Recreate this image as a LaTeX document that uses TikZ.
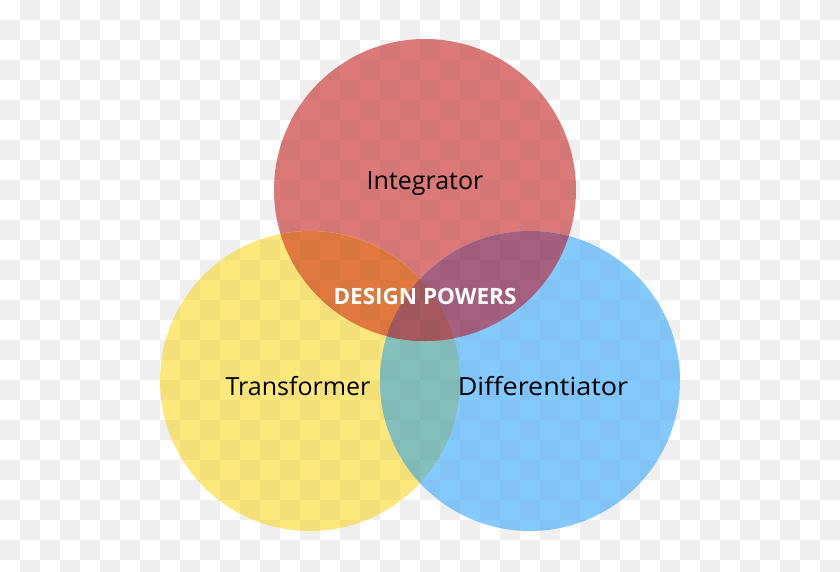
\documentclass[tikz,border=0pt]{standalone}
\usepackage{fontspec}
\setmainfont{Open Sans}
\definecolor{bgw}{HTML}{FFFFFF}
\definecolor{bgg}{HTML}{F7F7F7}
\definecolor{cred}{RGB}{220,122,122}
\definecolor{cyel}{RGB}{252,232,124}
\definecolor{cblu}{RGB}{133,202,252}
\definecolor{corg}{RGB}{224,122,64}
\definecolor{cpur}{RGB}{166,96,128}
\definecolor{ctea}{RGB}{134,192,188}
\definecolor{ctri}{RGB}{166,90,96}
\tikzset{
  lbl/.style={font=\fontsize{25}{28}\selectfont, text=black, inner sep=0pt},
  core/.style={font=\fontsize{22.5}{26}\selectfont\bfseries, text=white, inner sep=0pt}
}
\begin{document}
\begin{tikzpicture}[x=1pt,y=-1pt]
\useasboundingbox (0,0) rectangle (840,571);
\fill[bgw] (0,0) rectangle (840,571);
\begin{scope}
\clip (0,0) rectangle (840,571);
\foreach \i in {0,...,41}{
  \foreach \j in {0,...,28}{
    \pgfmathtruncatemacro{\p}{mod(\i+\j,2)}
    \ifnum\p=1 \fill[bgg] (\i*20,\j*20) rectangle ++(20,20); \fi
  }
}
\end{scope}
\def\Rc{(425,190) circle[radius=151]}
\def\Yc{(310,381) circle[radius=150]}
\def\Bc{(530,381) circle[radius=150]}
\fill[cred] \Rc;
\fill[cyel] \Yc;
\fill[cblu] \Bc;
\begin{scope}
\clip \Yc; \fill[ctea] \Bc;
\end{scope}
\begin{scope}
\clip \Rc; \fill[corg] \Yc; \fill[cpur] \Bc;
\clip \Yc; \fill[ctri] \Bc;
\end{scope}
\begin{scope}
\clip (0,0) rectangle (840,571);
\foreach \i in {0,...,41}{
  \foreach \j in {0,...,28}{
    \pgfmathtruncatemacro{\p}{mod(\i+\j,2)}
    \ifnum\p=1 \fill[black,opacity=0.03] (\i*20,\j*20) rectangle ++(20,20); \fi
  }
}
\end{scope}
\node[lbl] (int) at (425,184) {Integrator};
\node[lbl] (tra) at (298,386) {Transformer};
\node[lbl,xscale=1.08] (dif) at (543,386) {Differentiator};
\node[core] (dp) at (425,296) {DESIGN POWERS};
\end{tikzpicture}
\end{document}
